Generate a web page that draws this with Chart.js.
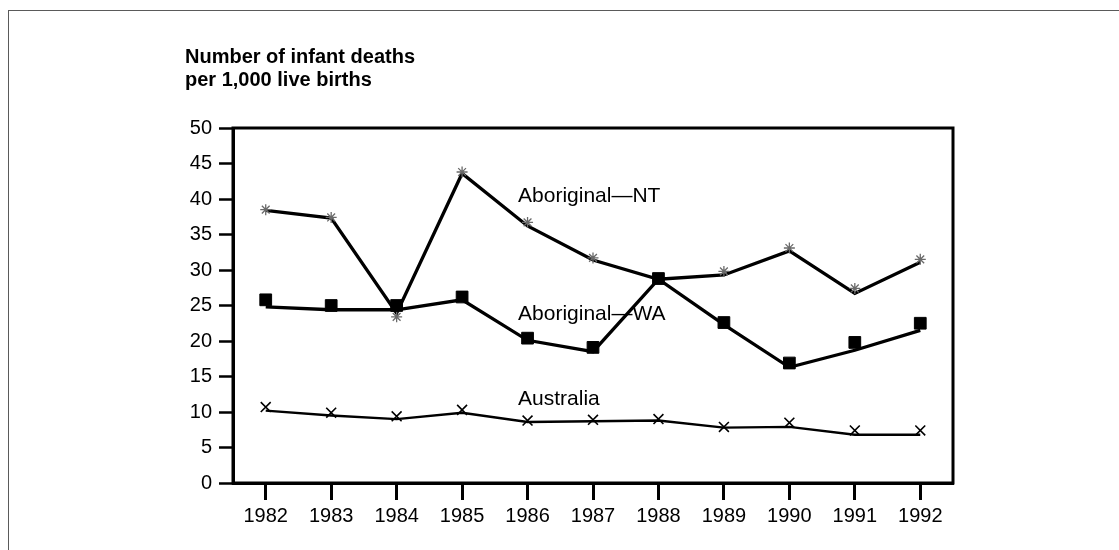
<!DOCTYPE html>
<html>
<head>
<meta charset="utf-8">
<script src="https://cdn.jsdelivr.net/npm/chart.js@4.4.0/dist/chart.umd.min.js"></script>
<style>
  html, body { margin: 0; padding: 0; background: #fff; }
  #wrap { position: relative; width: 1119px; height: 550px; }
  #frame { position: absolute; left: 8px; top: 10px; right: 0; bottom: 0;
           border-top: 1px solid #5a5a5a; border-left: 1px solid #5a5a5a; }
  canvas { position: absolute; left: 0; top: 0; }
</style>
</head>
<body>
<div id="wrap">
  <div id="frame"></div>
  <canvas id="c" width="1119" height="550"></canvas>
</div>
<script>
// ---- data ----
const years = ['1982','1983','1984','1985','1986','1987','1988','1989','1990','1991','1992'];

// connecting lines (as drawn in the original)
const ntLine  = [38.4, 37.3, 23.9, 43.6, 36.2, 31.4, 28.7, 29.3, 32.7, 26.7, 31.1];
const waLine  = [24.8, 24.4, 24.4, 25.8, 20.1, 18.5, 28.7, 22.3, 16.3, 18.7, 21.5];
const ausLine = [10.2, 9.5, 9.0, 9.9, 8.6, 8.7, 8.8, 7.8, 7.9, 6.8, 6.8];

// plotted markers (slightly offset from lines in the original)
const ntMarks  = [38.5, 37.4, 23.4, 43.8, 36.7, 31.7, 28.8, 29.8, 33.1, 27.4, 31.5];
const waMarks  = [25.8, 25.0, 25.0, 26.2, 20.4, 19.1, 28.8, 22.6, 16.9, 19.8, 22.5];
const ausMarks = [10.7, 9.9, 9.4, 10.3, 8.8, 8.9, 9.0, 7.9, 8.5, 7.4, 7.4];

const yTicks = [0, 5, 10, 15, 20, 25, 30, 35, 40, 45, 50];

const titleLines = ['Number of infant deaths', 'per 1,000 live births'];

// series labels: [text, category index, value]
const seriesLabels = [
  ['Aboriginal\u2014NT', 3.855, 39.6],
  ['Aboriginal\u2014WA', 3.855, 22.96],
  ['Australia', 3.855, 10.99]
];

const FONT = "'Liberation Sans', Arial, Helvetica, sans-serif";

const labelPlugin = {
  id: 'seriesLabels',
  beforeDatasetsDraw(chart) {
    const ctx = chart.ctx;
    const xs = chart.scales.x, ys = chart.scales.y;
    ctx.save();
    ctx.font = '21px ' + FONT;
    ctx.fillStyle = '#000';
    ctx.textAlign = 'left';
    ctx.textBaseline = 'alphabetic';
    seriesLabels.forEach(([t, xi, v]) => {
      ctx.fillText(t, xs.getPixelForValue(xi), ys.getPixelForValue(v));
    });
    ctx.restore();
  },
  afterDatasetsDraw(chart) {
    const a = chart.chartArea;
    const ctx = chart.ctx;
    ctx.save();
    ctx.strokeStyle = '#000';
    ctx.lineWidth = 3;
    ctx.strokeRect(a.left, a.top, a.right - a.left, a.bottom - a.top);
    ctx.restore();
  }
};

new Chart(document.getElementById('c'), {
  type: 'line',
  data: {
    labels: years,
    datasets: [
      { data: waMarks, showLine: false, pointStyle: 'rect', pointRadius: 8.3,
        pointBackgroundColor: '#000', pointBorderColor: '#000', pointBorderWidth: 1 },
      { data: ntMarks, showLine: false, pointStyle: 'star', pointRadius: 5.5,
        pointBackgroundColor: '#6a6a6a', pointBorderColor: '#6a6a6a', pointBorderWidth: 1.3 },
      { data: ausMarks, showLine: false, pointStyle: 'crossRot', pointRadius: 7,
        pointBorderColor: '#000', pointBorderWidth: 1.6 },
      { data: ntLine, borderColor: '#000', borderWidth: 3.3, pointRadius: 0, tension: 0 },
      { data: waLine, borderColor: '#000', borderWidth: 3.3, pointRadius: 0, tension: 0 },
      { data: ausLine, borderColor: '#000', borderWidth: 2.4, pointRadius: 0, tension: 0 }
    ]
  },
  options: {
    responsive: false,
    animation: false,
    layout: { padding: { left: 185, right: 166, top: 0, bottom: 27 } },
    plugins: {
      legend: { display: false },
      tooltip: { enabled: false },
      title: {
        display: true,
        text: titleLines,
        align: 'start',
        color: '#000',
        font: { family: FONT, size: 20, weight: 'bold', lineHeight: '23px' },
        padding: { top: 46, bottom: 36 }
      }
    },
    scales: {
      x: {
        offset: true,
        grid: { display: true, drawOnChartArea: false, drawTicks: true, tickLength: 17,
                tickWidth: 3, tickColor: '#000', offset: false },
        border: { display: true, color: '#000', width: 3 },
        ticks: { color: '#000', font: { family: FONT, size: 20 }, padding: 4,
                 maxRotation: 0, autoSkip: false },
        afterFit(s) { s.height = 40; }
      },
      y: {
        min: 0, max: 50,
        afterBuildTicks(s) { s.ticks = yTicks.map(v => ({ value: v })); },
        grid: { display: true, drawOnChartArea: false, drawTicks: true, tickLength: 14,
                tickWidth: 2.5, tickColor: '#000' },
        border: { display: true, color: '#000', width: 3 },
        ticks: { color: '#000', font: { family: FONT, size: 20 }, padding: 7 },
        afterFit(s) { s.width = 48; }
      }
    }
  },
  plugins: [labelPlugin]
});
</script>
</body>
</html>
